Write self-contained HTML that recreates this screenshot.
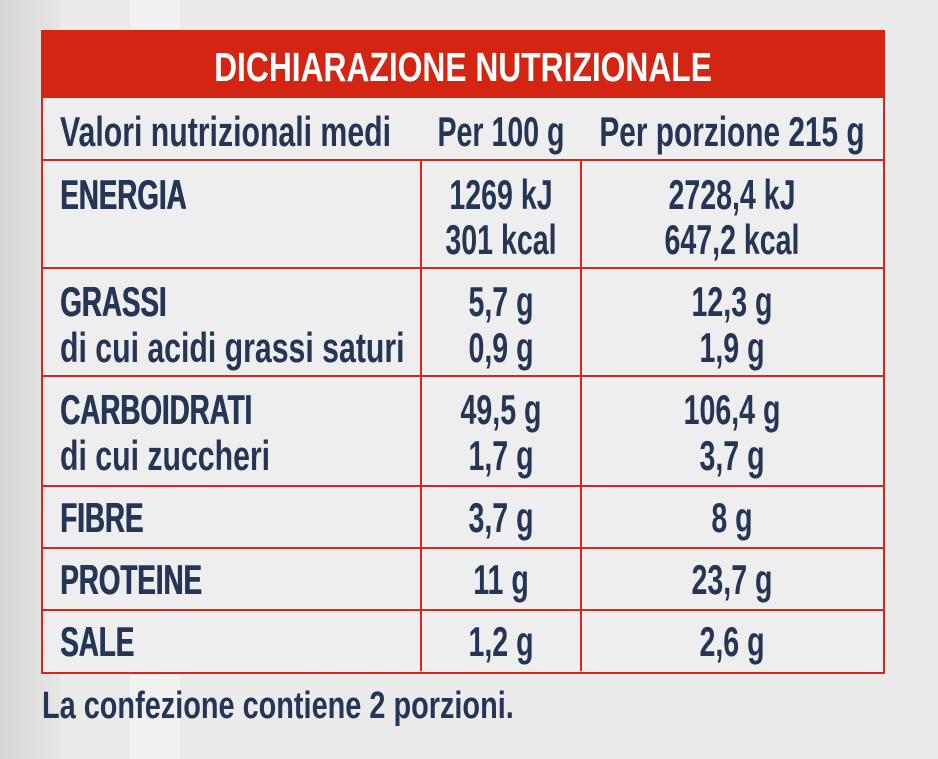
<!DOCTYPE html>
<html><head><meta charset="utf-8"><style>
body{margin:0;width:938px;height:759px;overflow:hidden;background:#ebebeb;position:relative;font-family:"Liberation Sans",sans-serif;color:#243556}
.bg1{position:absolute;left:0;top:0;width:60px;height:759px;background:linear-gradient(90deg,#d8d6d3,#e6e6e6)}
.bg2{position:absolute;left:130px;top:0;width:50px;height:759px;background:#f3f3f2;opacity:.7}
.tbl{position:absolute;left:41px;top:30px;width:840px;height:640px;border:2px solid #d9251b;background:#eeeeee}
.hd{position:absolute;left:41px;top:30px;width:844px;height:68px;background:#d42412}
.h{position:absolute;left:41px;height:2px;width:844px;background:#d9251b}
.v{position:absolute;width:2px;background:#d9251b}
.t{position:absolute;font-size:42px;line-height:40px;white-space:nowrap;font-weight:bold;transform:scaleX(.72);transform-origin:left center}
.c{transform-origin:center center;text-align:center;width:400px;transform:scaleX(.68)}
.b{transform:scaleX(.66);text-shadow:1px 0 0 #243556}
</style></head><body>
<div class="bg1"></div><div class="bg2"></div>
<div class="tbl"></div>
<div class="hd"></div>
<div class="h" style="top:159px"></div>
<div class="h" style="top:267px"></div>
<div class="h" style="top:375px"></div>
<div class="h" style="top:485px"></div>
<div class="h" style="top:547px"></div>
<div class="h" style="top:609px"></div>
<div class="v" style="left:420px;top:160px;height:511px"></div>
<div class="v" style="left:580px;top:160px;height:511px"></div>

<div class="t c" style="left:41px;width:844px;top:47px;color:#fff;font-size:41px;transform:scaleX(.775)">DICHIARAZIONE NUTRIZIONALE</div>

<div class="t" style="left:60px;top:112px">Valori nutrizionali medi</div>
<div class="t c" style="left:301px;top:112px">Per 100 g</div>
<div class="t c" style="left:532px;top:112px;transform:scaleX(.71)">Per porzione 215 g</div>

<div class="t b" style="left:60px;top:175px">ENERGIA</div>
<div class="t c" style="left:301px;top:175px">1269 kJ</div>
<div class="t c" style="left:301px;top:220px">301 kcal</div>
<div class="t c" style="left:532px;top:175px">2728,4 kJ</div>
<div class="t c" style="left:532px;top:220px">647,2 kcal</div>

<div class="t b" style="left:60px;top:282px">GRASSI</div>
<div class="t" style="left:60px;top:328px">di cui acidi grassi saturi</div>
<div class="t c" style="left:301px;top:282px">5,7 g</div>
<div class="t c" style="left:301px;top:328px">0,9 g</div>
<div class="t c" style="left:532px;top:282px">12,3 g</div>
<div class="t c" style="left:532px;top:328px">1,9 g</div>

<div class="t b" style="left:60px;top:390px">CARBOIDRATI</div>
<div class="t" style="left:60px;top:436px">di cui zuccheri</div>
<div class="t c" style="left:301px;top:390px">49,5 g</div>
<div class="t c" style="left:301px;top:436px">1,7 g</div>
<div class="t c" style="left:532px;top:390px">106,4 g</div>
<div class="t c" style="left:532px;top:436px">3,7 g</div>

<div class="t b" style="left:60px;top:498px">FIBRE</div>
<div class="t c" style="left:301px;top:498px">3,7 g</div>
<div class="t c" style="left:532px;top:498px">8 g</div>

<div class="t b" style="left:60px;top:560px">PROTEINE</div>
<div class="t c" style="left:301px;top:560px">11 g</div>
<div class="t c" style="left:532px;top:560px">23,7 g</div>

<div class="t b" style="left:60px;top:622px">SALE</div>
<div class="t c" style="left:301px;top:622px">1,2 g</div>
<div class="t c" style="left:532px;top:622px">2,6 g</div>

<div class="t" style="left:42px;top:686px;font-size:38px;transform:scaleX(.76)">La confezione contiene 2 porzioni.</div>
</body></html>
